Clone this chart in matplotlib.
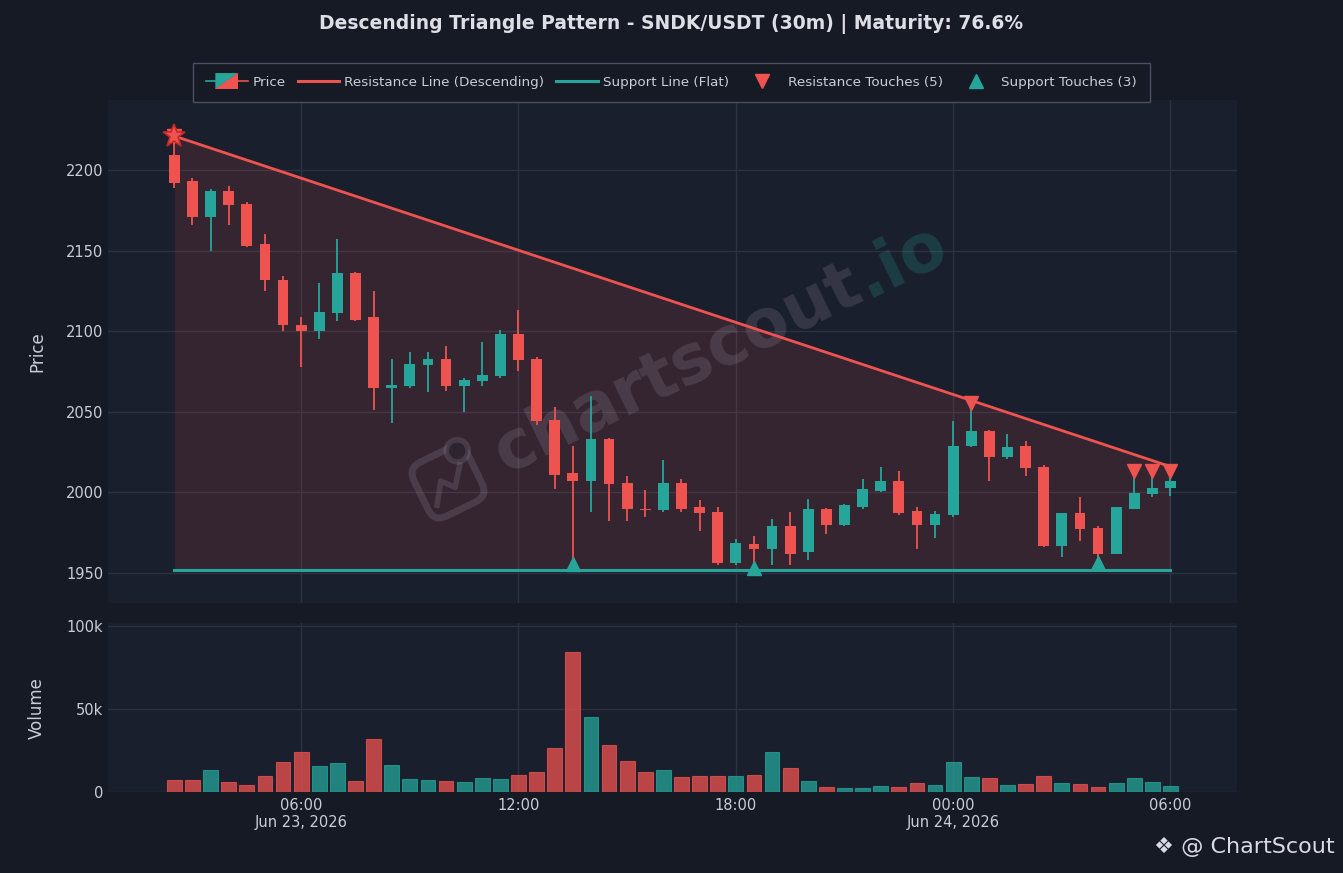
import matplotlib
matplotlib.use("Agg")
import matplotlib.pyplot as plt
import matplotlib.dates as mdates
from matplotlib.lines import Line2D
from matplotlib.patches import Polygon, FancyBboxPatch, Circle
from matplotlib.transforms import Affine2D
from matplotlib.legend_handler import HandlerBase
import pandas as pd
import numpy as np

# ---------------- data ----------------
start_time = "2026-06-23 02:30"
n_candles = 56
opens = [2209, 2193, 2171, 2187, 2179, 2154, 2132, 2104, 2100, 2111,
         2136, 2109, 2065, 2066, 2079, 2083, 2066, 2069, 2072, 2098,
         2083, 2045, 2012, 2007, 2033, 2006, 1990, 1989, 2006, 1991,
         1988, 1956, 1968, 1965, 1979, 1963, 1990, 1980, 1991, 2001,
         2007, 1988.5, 1980, 1986, 2029, 2038, 2022, 2029, 2016, 1967,
         1987, 1978, 1962, 1990, 1999, 2003]
highs = [2221, 2195, 2188, 2190, 2180, 2160, 2134, 2109, 2130, 2157,
         2137, 2125, 2083, 2087, 2087, 2091, 2071, 2093, 2101, 2113,
         2084, 2053, 2029, 2060, 2034, 2010, 2001.5, 2020, 2008, 1995,
         1991, 1971, 1973, 1983.5, 1988, 1996, 1990.5, 1992.5, 2008, 2016,
         2013, 1991, 1988.5, 2044, 2055.5, 2039, 2036, 2032, 2017, 1987.5,
         1997, 1979, 1991, 2013, 2013.5, 2013.5]
lows = [2189, 2166, 2150, 2166, 2152, 2125, 2100, 2078, 2095, 2106,
        2106, 2051, 2043, 2065, 2062, 2063, 2050, 2066, 2071, 2075,
        2042, 2002, 1955.5, 1988, 1982, 1982, 1985, 1988, 1988, 1976,
        1955, 1955, 1953, 1955, 1955, 1958, 1974, 1979, 1990, 2000,
        1986, 1965, 1971.5, 1985, 2028, 2007, 2021, 2010, 1966, 1960,
        1970, 1956.5, 1961.5, 1990, 1997, 1998]
closes = [2192, 2171, 2187, 2178, 2153, 2132, 2104, 2100, 2112, 2136,
          2107, 2065, 2066.5, 2079.5, 2083, 2066, 2070, 2072.5, 2098, 2082,
          2044.5, 2011, 2007, 2033, 2005, 1990, 1989, 2006, 1990, 1987.5,
          1956, 1968.5, 1965, 1979, 1962, 1990, 1980, 1992, 2002, 2007,
          1987.5, 1980, 1986.5, 2029, 2038, 2022, 2028, 2015, 1967, 1987,
          1977, 1962, 1991, 1999.5, 2003, 2007]
volumes = [7200, 7200, 13500, 6000, 4200, 9600, 18300, 24100, 15700, 17500,
           6800, 31700, 16300, 8000, 7000, 6400, 6200, 8400, 7600, 10200,
           12000, 26500, 84100, 45200, 28500, 18500, 12000, 13300, 8800, 9600,
           9600, 9600, 10200, 24100, 14500, 6600, 3000, 2400, 2400, 3400,
           3000, 5400, 4000, 18100, 9000, 8400, 4200, 4800, 9600, 5400,
           4800, 3000, 5200, 8600, 6000, 3600]

resistance_start = 2221
resistance_end = 2016
support_level = 1952
resistance_touch_idx = [0, 44, 53, 54, 55]
support_touch_idx = [22, 32, 51]

title = "Descending Triangle Pattern - SNDK/USDT (30m) | Maturity: 76.6%"
x_tick_times = ["2026-06-23 06:00", "2026-06-23 12:00", "2026-06-23 18:00",
                "2026-06-24 00:00", "2026-06-24 06:00"]
x_tick_labels = ["06:00\nJun 23, 2026", "12:00", "18:00", "00:00\nJun 24, 2026", "06:00"]
price_ticks = [1950, 2000, 2050, 2100, 2150, 2200]
volume_ticks = [0, 50000, 100000]
volume_tick_labels = ["0", "50k", "100k"]
legend_labels = ["Price", "Resistance Line (Descending)", "Support Line (Flat)",
                 "Resistance Touches (5)", "Support Touches (3)"]

# ---------------- style ----------------
FIG_BG = "#161a25"
AX_BG = "#1a1f2d"
GRID = "#2c3242"
TXT = "#c9cdd6"
RED = "#ef5350"
GREEN = "#26a69a"
WM = (0.63, 0.60, 0.66, 0.2)
W, H = 1343, 873

times = pd.date_range(start_time, periods=n_candles, freq="30min")
x = mdates.date2num(times.to_pydatetime())
step = x[1] - x[0]

fig = plt.figure(figsize=(W / 100, H / 100), dpi=100, facecolor=FIG_BG)
ax = fig.add_axes([0.0804, 0.3093, 0.8406, 0.5762])
axv = fig.add_axes([0.0804, 0.0928, 0.8406, 0.1936], sharex=ax)

for a in (ax, axv):
    a.set_facecolor(AX_BG)
    for s in a.spines.values():
        s.set_visible(False)
    a.grid(True, color=GRID, linewidth=1.0)
    a.set_axisbelow(True)
    a.tick_params(length=0, colors=TXT, labelsize=10.5)

# fill triangle
res_line = np.array([resistance_start, resistance_end])
xl = np.array([x[0], x[-1]])
ax.fill_between(xl, [support_level, support_level], res_line, color=RED, alpha=0.13,
                linewidth=0, zorder=1)

# candles
body_w = step * 0.6
for i in range(n_candles):
    o, h, l, c = opens[i], highs[i], lows[i], closes[i]
    col = GREEN if c >= o else RED
    ax.vlines(x[i], l, h, color=col, linewidth=1.3, zorder=3)
    ax.bar(x[i], max(abs(c - o), 0.6), bottom=min(o, c), width=body_w, color=col,
           linewidth=0, zorder=4)

# lines
ax.plot(xl, res_line, color=RED, linewidth=2.0, zorder=5)
ax.plot(xl, [support_level, support_level], color=GREEN, linewidth=2.2, zorder=5)

# touches
ax.plot(x[resistance_touch_idx], [highs[i] for i in resistance_touch_idx], "v",
        color=RED, markersize=10, linestyle="none", zorder=6)
ax.plot(x[support_touch_idx], [lows[i] for i in support_touch_idx], "^",
        color=GREEN, markersize=10, linestyle="none", zorder=6)
ax.plot(x[0], highs[0], "*", markersize=17, color=RED, markeredgecolor="#c62828",
        markeredgewidth=1.2, zorder=7)

ax.set_ylim(1931.4, 2243.4)
ax.set_yticks(price_ticks)
pad = 110 / (24 * 60)
ax.set_xlim(x[0] - pad, x[-1] + pad)
tick_x = mdates.date2num(pd.to_datetime(x_tick_times).to_pydatetime())
ax.set_xticks(tick_x)
plt.setp(ax.get_xticklabels(), visible=False)

# volume
vcols = [GREEN if closes[i] >= opens[i] else RED for i in range(n_candles)]
axv.bar(x, volumes, width=step * 0.82, color=vcols, alpha=0.75,
        edgecolor=vcols, linewidth=0.8, zorder=3)
axv.set_ylim(0, max(volumes) * 1.21)
axv.set_yticks(volume_ticks)
axv.set_yticklabels(volume_tick_labels)
axv.set_xticks(tick_x)
axv.set_xticklabels(x_tick_labels, fontsize=10.5)
axv.tick_params(axis="x", pad=4)

fig.text(37 / W, 1 - 352 / H, "Price", rotation=90, ha="center", va="center",
         fontsize=12, color=TXT)
fig.text(37 / W, 1 - 708 / H, "Volume", rotation=90, ha="center", va="center",
         fontsize=12, color=TXT)

fig.text(0.5, 0.973, title, ha="center", va="center", fontsize=13.5, fontweight="bold",
         color="#dcdfe6")

# watermark (pixel coordinates)
renderer = fig.canvas.get_renderer()
ang = 26.0
fs_wm = 48
tmp = fig.text(0, 0, "chartscout", fontsize=fs_wm, fontweight="bold")
wlen = tmp.get_window_extent(renderer).width
tmp.remove()
px0, py0 = 506, H - 474
ax.text(px0, py0, "chartscout", transform=None, fontsize=fs_wm, fontweight="bold",
        color=WM[:3], alpha=0.2, rotation=ang, rotation_mode="anchor",
        ha="left", va="baseline", zorder=2)
ca, sa = np.cos(np.radians(ang)), np.sin(np.radians(ang))
ax.text(px0 + wlen * ca, py0 + wlen * sa, ".io", transform=None, fontsize=fs_wm,
        fontweight="bold", color=GREEN, alpha=0.22, rotation=ang, rotation_mode="anchor",
        ha="left", va="baseline", zorder=2)
# watermark logo
icon_tr = Affine2D().rotate_deg(ang).translate(448, H - 482)
ax.add_patch(FancyBboxPatch((-30, -30), 60, 60, boxstyle="round,pad=0,rounding_size=14",
                            facecolor="none", edgecolor=WM, linewidth=5,
                            transform=icon_tr, zorder=2))
ax.add_patch(Circle((22, 24), 11, facecolor="#2e2430", edgecolor=WM,
                    linewidth=4, transform=icon_tr, zorder=2))
ax.add_line(Line2D([-20, -6, 4, 18], [-16, 4, -8, 10], color=WM,
                   linewidth=4, transform=icon_tr, zorder=2))

# legend
class CandleHandler(HandlerBase):
    def create_artists(self, legend, orig_handle, xdescent, ydescent, width, height,
                       fontsize, trans):
        x0, y0 = -xdescent, -ydescent
        bw = width * 0.55
        bx = x0 + (width - bw) / 2
        yb, yt = y0 - height * 0.35, y0 + height * 1.35
        ym = y0 + height / 2
        l1 = Line2D([x0, x0 + width / 2], [ym, ym], color=GREEN, lw=1.2, transform=trans)
        l2 = Line2D([x0 + width / 2, x0 + width], [ym, ym], color=RED, lw=1.2, transform=trans)
        p1 = Polygon([[bx, yt], [bx + bw, yt], [bx, yb]], closed=True, facecolor=GREEN,
                     edgecolor="none", transform=trans)
        p2 = Polygon([[bx + bw, yt], [bx + bw, yb], [bx, yb]], closed=True, facecolor=RED,
                     edgecolor="none", transform=trans)
        return [l1, l2, p1, p2]

price_handle = Line2D([], [])
handles = [price_handle,
           Line2D([], [], color=RED, lw=2.2),
           Line2D([], [], color=GREEN, lw=2.2),
           Line2D([], [], marker="v", color=RED, linestyle="none", markersize=10),
           Line2D([], [], marker="^", color=GREEN, linestyle="none", markersize=10)]
leg = fig.legend(handles, legend_labels, loc="upper center", bbox_to_anchor=(0.5, 1 - 63 / H),
                 ncol=5, frameon=True, fancybox=False, facecolor=FIG_BG, edgecolor="#4a5062",
                 fontsize=9.7, labelcolor=TXT, handlelength=3.1, columnspacing=0.9,
                 handletextpad=0.35, borderpad=0.95, borderaxespad=0,
                 handler_map={price_handle: CandleHandler()})
leg.get_frame().set_linewidth(1.0)
leg.get_frame().set_alpha(1.0)

# branding
fig.text(0.994, 0.030, "❖ @ ChartScout", ha="right", va="center", fontsize=16,
         color="#d8dbe2")

fig.savefig("out.png", dpi=100, facecolor=FIG_BG)
